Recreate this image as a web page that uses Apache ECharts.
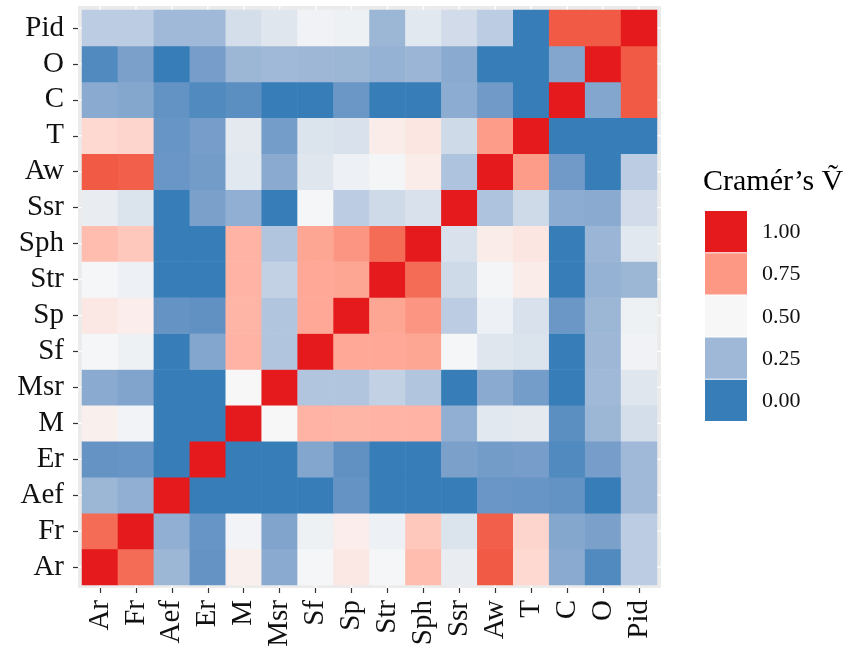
<!DOCTYPE html>
<html><head><meta charset="utf-8">
<script src="https://cdn.jsdelivr.net/npm/echarts@6/dist/echarts.min.js"></script>
<style>html,body{margin:0;padding:0;background:#fff}#c{width:853px;height:653px}</style>
</head><body><div id="c"></div>
<script>
// ---------------- data ----------------
const variables = ['Ar','Fr','Aef','Er','M','Msr','Sf','Sp','Str','Sph','Ssr','Aw','T','C','O','Pid'];
// each row: Cramér's V of that variable with the variables above (same order)
const rowAr  = [1.00, 0.86, 0.24, 0.095, 0.52, 0.19, 0.495, 0.54, 0.495, 0.655, 0.46, 0.90, 0.58, 0.19, 0.05, 0.33];
const rowFr  = [0.86, 1.00, 0.21, 0.10, 0.485, 0.165, 0.475, 0.525, 0.47, 0.625, 0.42, 0.89, 0.59, 0.175, 0.15, 0.33];
const rowAef = [0.24, 0.21, 1.00, 0.00, 0.00, 0.00, 0.00, 0.095, 0.00, 0.00, 0.00, 0.105, 0.10, 0.09, 0.00, 0.25];
const rowEr  = [0.095, 0.10, 0.00, 1.00, 0.00, 0.00, 0.17, 0.085, 0.00, 0.00, 0.15, 0.13, 0.14, 0.05, 0.14, 0.25];
const rowM   = [0.52, 0.485, 0.00, 0.00, 1.00, 0.50, 0.68, 0.675, 0.68, 0.68, 0.21, 0.44, 0.445, 0.07, 0.24, 0.40];
const rowMsr = [0.19, 0.165, 0.00, 0.00, 0.50, 1.00, 0.30, 0.30, 0.35, 0.30, 0.00, 0.19, 0.135, 0.00, 0.25, 0.43];
const rowSf  = [0.495, 0.475, 0.00, 0.17, 0.68, 0.30, 1.00, 0.71, 0.71, 0.715, 0.495, 0.43, 0.42, 0.00, 0.245, 0.48];
const rowSp  = [0.54, 0.525, 0.095, 0.085, 0.675, 0.30, 0.71, 1.00, 0.715, 0.755, 0.33, 0.47, 0.415, 0.11, 0.24, 0.475];
const rowStr = [0.495, 0.47, 0.00, 0.00, 0.68, 0.35, 0.71, 0.715, 1.00, 0.86, 0.385, 0.49, 0.53, 0.00, 0.22, 0.24];
const rowSph = [0.655, 0.625, 0.00, 0.00, 0.68, 0.30, 0.715, 0.755, 0.86, 1.00, 0.41, 0.53, 0.545, 0.00, 0.235, 0.44];
const rowSsr = [0.46, 0.42, 0.00, 0.15, 0.21, 0.00, 0.495, 0.33, 0.385, 0.41, 1.00, 0.29, 0.385, 0.20, 0.19, 0.39];
const rowAw  = [0.90, 0.89, 0.105, 0.13, 0.44, 0.19, 0.43, 0.47, 0.49, 0.53, 0.29, 1.00, 0.74, 0.125, 0.00, 0.33];
const rowT   = [0.58, 0.59, 0.10, 0.14, 0.445, 0.135, 0.42, 0.415, 0.53, 0.545, 0.385, 0.74, 1.00, 0.00, 0.00, 0.00];
const rowC   = [0.19, 0.175, 0.09, 0.05, 0.07, 0.00, 0.00, 0.11, 0.00, 0.00, 0.20, 0.125, 0.00, 1.00, 0.17, 0.90];
const rowO   = [0.05, 0.15, 0.00, 0.14, 0.24, 0.25, 0.245, 0.24, 0.22, 0.235, 0.19, 0.00, 0.00, 0.17, 1.00, 0.90];
const rowPid = [0.33, 0.33, 0.25, 0.25, 0.40, 0.43, 0.48, 0.475, 0.24, 0.44, 0.39, 0.33, 0.00, 0.90, 0.90, 1.00];
const matrixRows = [rowAr,rowFr,rowAef,rowEr,rowM,rowMsr,rowSf,rowSp,rowStr,rowSph,rowSsr,rowAw,rowT,rowC,rowO,rowPid];
const legendBreaks = [1.00, 0.75, 0.50, 0.25, 0.00];
const legendLabels = ['1.00','0.75','0.50','0.25','0.00'];
const legendTitle = 'Cram\u00e9r\u2019s V\u0303';

// ---------------- colour scale (Lab interpolation, like ggplot gradient2) ----------------
const LOW='#377eb8', MID='#f7f7f7', HIGH='#e41a1c';
function hexToRgb(h){return [1,3,5].map(i=>parseInt(h.substr(i,2),16));}
function s2l(c){c/=255;return c<=0.04045?c/12.92:Math.pow((c+0.055)/1.055,2.4);}
function l2s(c){c=c<=0.0031308?12.92*c:1.055*Math.pow(c,1/2.4)-0.055;return Math.round(Math.max(0,Math.min(1,c))*255);}
const Xn=0.95047,Yn=1,Zn=1.08883,EPS=216/24389,KAP=24389/27;
function ff(t){return t>EPS?Math.cbrt(t):(KAP*t+16)/116;}
function fi(t){const t3=t*t*t;return t3>EPS?t3:(116*t-16)/KAP;}
function toLab(hex){const [r,g,b]=hexToRgb(hex).map(s2l);
  const X=0.4124564*r+0.3575761*g+0.1804375*b,Y=0.2126729*r+0.7151522*g+0.0721750*b,Z=0.0193339*r+0.1191920*g+0.9503041*b;
  const fx=ff(X/Xn),fy=ff(Y/Yn),fz=ff(Z/Zn);return [116*fy-16,500*(fx-fy),200*(fy-fz)];}
function fromLab(L,a,b){const fy=(L+16)/116,fx=fy+a/500,fz=fy-b/200;
  const X=Xn*fi(fx),Y=Yn*fi(fy),Z=Zn*fi(fz);
  const r=3.2404542*X-1.5371385*Y-0.4985314*Z,g=-0.9692660*X+1.8760108*Y+0.0415560*Z,bb=0.0556434*X-0.2040259*Y+1.0572252*Z;
  return 'rgb('+[r,g,bb].map(l2s).join(',')+')';}
const labL=toLab(LOW),labM=toLab(MID),labH=toLab(HIGH);
function colorAt(v){v=Math.max(0,Math.min(1,v));let A,B,t;
  if(v<=0.5){A=labL;B=labM;t=v/0.5;}else{A=labM;B=labH;t=(v-0.5)/0.5;}
  return fromLab(A[0]+(B[0]-A[0])*t,A[1]+(B[1]-A[1])*t,A[2]+(B[2]-A[2])*t);}
const stops=[];for(let i=0;i<=50;i++)stops.push(colorAt(i/50));

// ---------------- chart ----------------
const FONT='Liberation Serif';
const G={left:82,top:10,width:575,height:575};
const heatData=[];
matrixRows.forEach((row,yi)=>row.forEach((v,xi)=>heatData.push([xi,yi,v])));

const chart=echarts.init(document.getElementById('c'),null,{renderer:'canvas'});
const option={
  animation:false,
  backgroundColor:'#ffffff',
  grid:{left:G.left,top:G.top,width:G.width,height:G.height,containLabel:false},
  xAxis:{type:'category',data:variables,offset:3,
    axisLine:{show:false},
    axisTick:{show:true,alignWithLabel:true,interval:0,length:5,lineStyle:{color:'#333',width:1.2}},
    axisLabel:{rotate:90,interval:0,hideOverlap:false,fontSize:29,color:'#111',fontFamily:FONT,margin:12},
    splitLine:{show:false}},
  yAxis:{type:'category',data:variables,offset:4,
    axisLine:{show:false},
    axisTick:{show:true,alignWithLabel:true,interval:0,length:5,lineStyle:{color:'#333',width:1.2}},
    axisLabel:{interval:0,hideOverlap:false,fontSize:29,color:'#111',fontFamily:FONT,margin:14},
    splitLine:{show:false}},
  visualMap:{type:'continuous',min:0,max:1,show:false,dimension:2,inRange:{color:stops}},
  series:[{type:'heatmap',data:heatData,progressive:0,itemStyle:{borderWidth:0},emphasis:{disabled:true}}]
};
chart.setOption(option);

// panel background, grid lines, legend
const gfx=[];
gfx.push({type:'rect',z:-10,shape:{x:G.left-4,y:G.top-4,width:G.width+8,height:G.height+7},style:{fill:'#ebebeb'}});
variables.forEach((v,i)=>{
  const p=chart.convertToPixel({gridIndex:0},[i,i]);
  gfx.push({type:'line',z:-9,shape:{x1:p[0],y1:G.top-4,x2:p[0],y2:G.top+G.height+3},style:{stroke:'#fff',lineWidth:1.4}});
  gfx.push({type:'line',z:-9,shape:{x1:G.left-4,y1:p[1],x2:G.left+G.width+4,y2:p[1]},style:{stroke:'#fff',lineWidth:1.4}});
});
gfx.push({type:'text',left:703,top:167,style:{text:legendTitle,fontSize:30,fontFamily:FONT,fill:'#000'}});
legendBreaks.forEach((b,i)=>{
  const y=211+i*42.2;
  gfx.push({type:'rect',shape:{x:705,y:y,width:42,height:41.2},style:{fill:colorAt(b)}});
  gfx.push({type:'text',x:762,y:y+21.5,style:{text:legendLabels[i],fontSize:22,fontFamily:FONT,fill:'#111',verticalAlign:'middle',align:'left'}});
});
chart.setOption({graphic:gfx});
</script></body></html>
